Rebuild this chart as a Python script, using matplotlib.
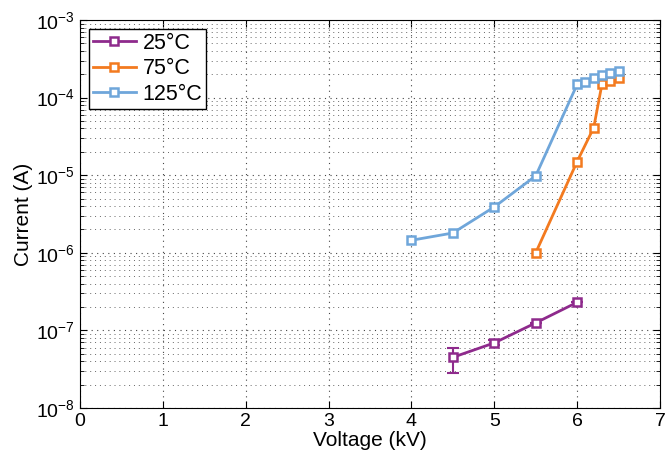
import matplotlib.pyplot as plt
import numpy as np

plt.rcParams['font.family'] = ['Liberation Sans', 'DejaVu Sans']

# data
v25 = [4.5, 5.0, 5.5, 6.0]
i25 = [4.5e-8, 6.9e-8, 1.25e-7, 2.3e-7]
e25_lo = [1.7e-8, 0.5e-8, 0, 0]
e25_hi = [1.5e-8, 0.6e-8, 0, 0]

v75 = [5.5, 6.0, 6.2, 6.3, 6.4, 6.5]
i75 = [1.0e-6, 1.5e-5, 4.1e-5, 1.5e-4, 1.65e-4, 1.8e-4]

v125 = [4.0, 4.5, 5.0, 5.5, 6.0, 6.1, 6.2, 6.3, 6.4, 6.5]
i125 = [1.45e-6, 1.8e-6, 3.9e-6, 9.8e-6, 1.48e-4, 1.6e-4, 1.8e-4, 1.95e-4, 2.1e-4, 2.2e-4]

fig = plt.figure(figsize=(6.67, 4.59), dpi=100)
ax = fig.add_axes([80/667, 1-408/459, 580/667, 388/459])

mk = dict(marker='s', markersize=6, markerfacecolor='white', markeredgewidth=1.8, linewidth=2)
c25, c75, c125 = '#8E2A8C', '#F37A1F', '#6FA6DA'
ax.errorbar(v25, i25, yerr=[e25_lo, e25_hi], fmt='none', ecolor=c25, capsize=4, elinewidth=1.5, capthick=1.5)
ax.plot(v25, i25, color=c25, label='25°C', **mk)
ax.plot(v75, i75, color=c75, label='75°C', **mk)
ax.plot(v125, i125, color=c125, label='125°C', **mk)

ax.set_yscale('log')
ax.set_xlim(0, 7)
ax.set_ylim(1e-8, 1e-3)
ax.set_xticks(range(8))
ax.grid(True, which='major', linestyle=(0, (1, 4)), color='#444444', linewidth=0.8)
ax.grid(True, which='minor', linestyle=(0, (1, 4)), color='#666666', linewidth=0.7)
ax.tick_params(which='both', direction='in', top=True, right=True, labelsize=14)
ax.tick_params(which='major', length=5)
ax.tick_params(which='minor', length=3)
ax.set_xlabel('Voltage (kV)', fontsize=15, labelpad=1)
ax.set_ylabel('Current (A)', fontsize=15, labelpad=2)

leg = ax.legend(loc='upper left', fontsize=15.5, fancybox=False, framealpha=1,
                edgecolor='black', handlelength=2.0, handletextpad=0.3,
                borderaxespad=0.4, labelspacing=0.2, borderpad=0.2)
leg.get_frame().set_linewidth(1)

plt.savefig('out.png', dpi=100)
